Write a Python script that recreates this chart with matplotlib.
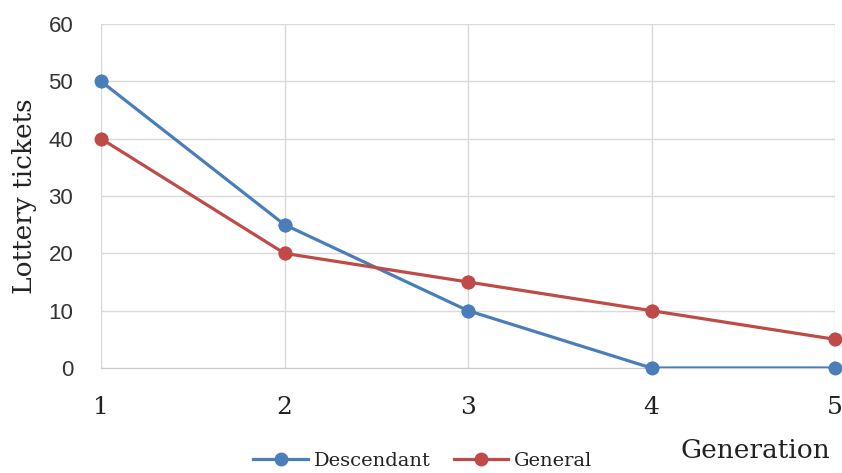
import matplotlib
matplotlib.use("Agg")
import matplotlib.pyplot as plt

generations = [1, 2, 3, 4, 5]
descendant = [50, 25, 10, 0, 0]
general = [40, 20, 15, 10, 5]
y_ticks = [0, 10, 20, 30, 40, 50, 60]

BLUE = "#4a7ebb"
RED = "#be4b48"
GRID = "#d9d9d9"
SERIF = "DejaVu Serif"

fig = plt.figure(figsize=(8.42, 4.73), dpi=100)
ax = fig.add_axes([101 / 842, 1 - 368 / 473, (835 - 101) / 842, (368 - 24) / 473])

for values, color, name in [(descendant, BLUE, "Descendant"), (general, RED, "General")]:
    # clipped line, with the markers redrawn on top so they are not cut at the edges
    ax.plot(generations, values, color=color, lw=2.3, marker="o", ms=9,
            label=name, zorder=3)
    ax.plot(generations, values, color=color, lw=0, marker="o", ms=9,
            clip_on=False, zorder=4)

ax.set_xlim(1, 5)
ax.set_ylim(0, 60)
ax.set_xticks(generations)
ax.set_yticks(y_ticks)
ax.grid(True, color=GRID, lw=1)
for s in ax.spines.values():
    s.set_visible(False)
ax.spines["bottom"].set_visible(True)
ax.spines["bottom"].set_color("#c8c8c8")
ax.tick_params(length=0)
ax.tick_params(axis="y", pad=20)
ax.tick_params(axis="x", pad=20)

for t in ax.get_yticklabels():
    t.set_fontfamily("Liberation Sans")
    t.set_fontsize(16)
    t.set_color("#333333")
for t in ax.get_xticklabels():
    t.set_fontfamily(SERIF)
    t.set_fontsize(18)
    t.set_color("#222222")

fig.text(25 / 842, 1 - 196 / 473, "Lottery tickets", fontfamily=SERIF, fontsize=19,
         color="#222222", ha="center", va="center", rotation=90)
fig.text(755 / 842, 1 - 450 / 473, "Generation", fontfamily=SERIF, fontsize=19,
         color="#222222", ha="center", va="center")

leg = fig.legend(loc="center", bbox_to_anchor=(423 / 842, 1 - 461 / 473), ncol=2,
                 frameon=False, prop={"family": SERIF, "size": 14},
                 handlelength=2.8, columnspacing=1.2, handletextpad=0.3,
                 borderpad=0, borderaxespad=0)
for t in leg.get_texts():
    t.set_color("#222222")

fig.savefig("out.png", dpi=100)
